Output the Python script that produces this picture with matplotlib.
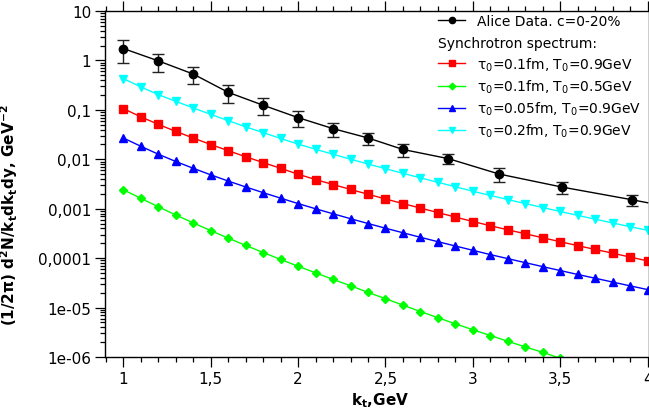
import numpy as np
import matplotlib
matplotlib.use('Agg')
import matplotlib.pyplot as plt
from matplotlib.lines import Line2D
from matplotlib.ticker import LogLocator, MultipleLocator, NullFormatter

plt.rcParams['font.family'] = ['DejaVu Sans']
plt.rcParams['mathtext.fontset'] = 'dejavusans'
plt.rcParams['mathtext.default'] = 'regular'

# ALICE data, c=0-20%
alice_x = [1.0, 1.2, 1.4, 1.6, 1.8, 2.0, 2.2, 2.4, 2.6, 2.86, 3.15, 3.51, 3.91]
alice_y = [1.74, 0.98, 0.53, 0.226, 0.124, 0.0696, 0.0417, 0.0270, 0.0158,
           0.0103, 0.00503, 0.00274, 0.00152]
alice_err = [0.85, 0.40, 0.20, 0.087, 0.046, 0.025, 0.013, 0.0075, 0.0045,
             0.0024, 0.0015, 0.00075, 0.00038]
# black curve drawn through the data, running on to the axis end
alice_line_x = alice_x + [4.0]
alice_line_y = alice_y + [0.00132]

# synchrotron spectrum, kt = 1.0 ... 4.0 GeV
kt = [1.0, 1.1, 1.2, 1.3, 1.4, 1.5, 1.6, 1.7, 1.8, 1.9, 2.0,
      2.1, 2.2, 2.3, 2.4, 2.5, 2.6, 2.7, 2.8, 2.9, 3.0,
      3.1, 3.2, 3.3, 3.4, 3.5, 3.6, 3.7, 3.8, 3.9, 4.0]
red_y = [0.1059, 0.0722, 0.0509, 0.0367, 0.0269, 0.0199, 0.01492, 0.01128,
         0.00857, 0.00657, 0.00498, 0.003895, 0.003083, 0.002455, 0.001961,
         0.001575, 0.001271, 0.001030, 0.000836, 0.000677, 0.000551,
         0.000453, 0.000374, 0.000311, 0.000258, 0.000215, 0.000179,
         0.000150, 0.000126, 0.000105, 0.0000881]
green_y = [0.002419, 0.001620, 0.001095, 0.000747, 0.000516, 0.000361,
           0.000254, 0.000181, 0.000130, 0.0000941, 0.0000685, 0.0000504,
           0.0000372, 0.0000276, 0.0000203, 0.0000151, 0.0000112, 8.32e-6,
           6.23e-6, 4.69e-6, 3.56e-6, 2.72e-6, 2.08e-6, 1.60e-6, 1.24e-6,
           9.4e-7, 7.53e-7, 5.91e-7, 4.66e-7, 3.69e-7, 2.94e-7]
blue_y = [0.02699, 0.01832, 0.01267, 0.00902, 0.00657, 0.00485, 0.00363,
          0.002757, 0.002113, 0.001635, 0.001271, 0.000997, 0.000790,
          0.000628, 0.000502, 0.000403, 0.000326, 0.000264, 0.000215,
          0.000176, 0.000144, 0.000118, 0.0000977, 0.0000810, 0.0000673,
          0.0000561, 0.0000467, 0.0000392, 0.0000328, 0.0000275, 0.0000231]
cyan_y = [0.4290, 0.2913, 0.2034, 0.1488, 0.1094, 0.0811, 0.0605, 0.0453,
          0.0346, 0.02636, 0.02030, 0.01593, 0.01262, 0.01004, 0.00802,
          0.00645, 0.00520, 0.00421, 0.00342, 0.00278, 0.002257, 0.001854,
          0.001532, 0.001271, 0.001055, 0.000879, 0.000733, 0.000614,
          0.000514, 0.000433, 0.000366]

series_labels = ['τ$_0$=0.1fm, T$_0$=0.9GeV',
                 'τ$_0$=0.1fm, T$_0$=0.5GeV',
                 'τ$_0$=0.05fm, T$_0$=0.9GeV',
                 'τ$_0$=0.2fm, T$_0$=0.9GeV']
alice_label = 'Alice Data. c=0-20%'

x_ticks = [1, 1.5, 2, 2.5, 3, 3.5, 4]
x_tick_labels = ['1', '1,5', '2', '2,5', '3', '3,5', '4']
y_ticks = [1e-6, 1e-5, 1e-4, 1e-3, 1e-2, 1e-1, 1, 10]
y_tick_labels = ['1e-06', '1e-05', '0,0001', '0,001', '0,01', '0,1', '1', '10']

fig = plt.figure(figsize=(6.49, 4.14), dpi=100)
ax = fig.add_axes([105 / 649, 56 / 414, 543.5 / 649, 346 / 414])

ax.plot(alice_line_x, alice_line_y, color='black', lw=1.0, zorder=5)
ax.errorbar(alice_x, alice_y, yerr=alice_err, fmt='o', color='black',
            ms=6, ecolor='#222222', elinewidth=1.0, capsize=4, capthick=1.0,
            zorder=6)

l_red, = ax.plot(kt, red_y, color='#ff0000', marker='s', ms=6, lw=1.0)
l_green, = ax.plot(kt, green_y, color='#00ff00', marker='D', ms=4.5, lw=1.0)
l_blue, = ax.plot(kt, blue_y, color='#0000ff', marker='^', ms=5.5, lw=1.0)
l_cyan, = ax.plot(kt, cyan_y, color='#00ffff', marker='v', ms=6, lw=1.0)

ax.set_yscale('log')
ax.set_ylim(1e-6, 10)
ax.set_xlim(0.895, 4.005)

ax.set_xticks(x_ticks)
ax.set_xticklabels(x_tick_labels)
ax.xaxis.set_minor_locator(MultipleLocator(0.1))
ax.set_yticks(y_ticks)
ax.set_yticklabels(y_tick_labels)
ax.yaxis.set_minor_locator(LogLocator(base=10, subs=np.arange(2, 10), numticks=20))
ax.yaxis.set_minor_formatter(NullFormatter())

ax.tick_params(which='both', direction='out', top=True, right=True,
               labelsize=11, width=0.9, color='black')
ax.tick_params(which='major', length=7, pad=3)
ax.tick_params(which='minor', length=3.5)
for s in ax.spines.values():
    s.set_linewidth(1.0)

ax.set_xlabel('k$\\mathbf{_t}$,GeV', fontsize=11, fontweight='bold')
ax.xaxis.set_label_coords(0.506, -0.095)
ax.set_ylabel('(1/2$\\mathbf{\\pi}$) d$\\mathbf{^2}$N/k$\\mathbf{_t}$dk$\\mathbf{_t}$dy, GeV$\\mathbf{^{-2}}$',
              fontsize=11, fontweight='bold')
ax.yaxis.set_label_coords(-0.156, 0.413)

alice_handle = Line2D([], [], color='black', marker='o', ms=4.5, lw=1.0)
leg1 = ax.legend([alice_handle], [alice_label], loc='upper left',
                 bbox_to_anchor=(0.607, 1.0), borderaxespad=0, borderpad=0.2,
                 fontsize=10, handlelength=2.0, handletextpad=0.8,
                 frameon=False)
ax.add_artist(leg1)
leg2 = ax.legend([l_red, l_green, l_blue, l_cyan], series_labels,
                 title='Synchrotron spectrum:', title_fontsize=10,
                 alignment='left', loc='upper left',
                 bbox_to_anchor=(0.607, 0.935), borderaxespad=0, borderpad=0.2,
                 fontsize=10, handlelength=2.0, handletextpad=0.8,
                 labelspacing=0.35, markerscale=0.75, fancybox=False,
                 framealpha=1.0, edgecolor='white')
leg2.get_frame().set_linewidth(0)

fig.savefig('out.png', dpi=100)
